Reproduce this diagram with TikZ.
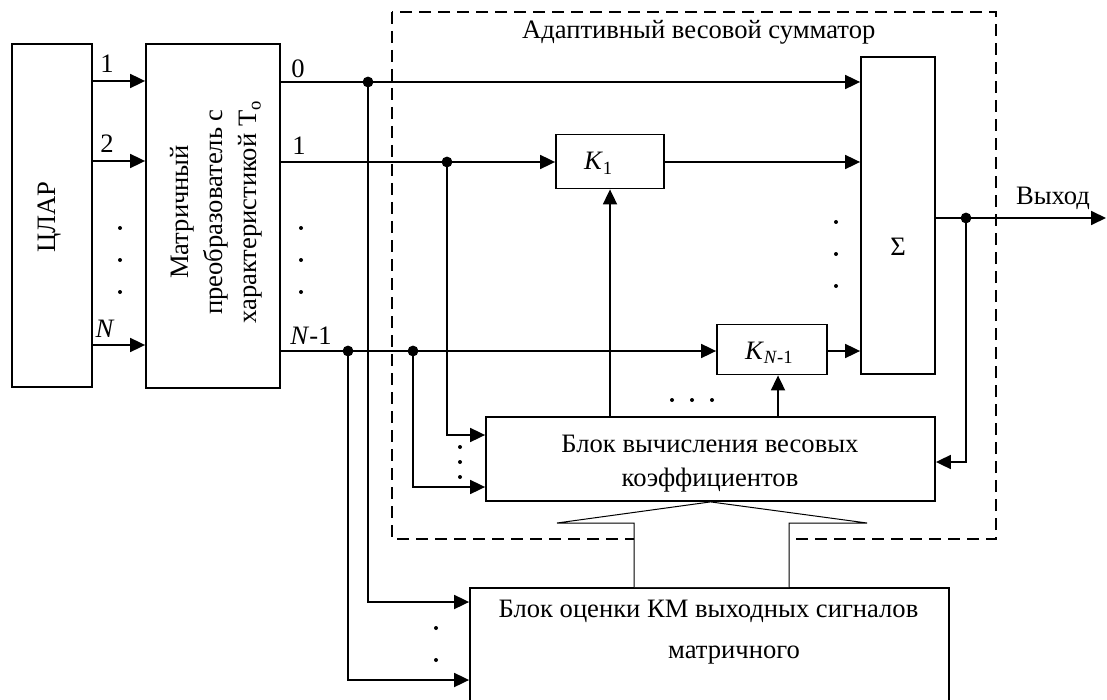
\documentclass[tikz,border=0pt]{standalone}
\usepackage{fontspec}
\setmainfont{Liberation Serif}
\usetikzlibrary{arrows.meta}

\begin{document}
\begin{tikzpicture}[x=0.5pt,y=-0.5pt,
        every node/.style={font=\fontsize{13.3}{17}\selectfont},
        blk/.style={draw, line width=0.9pt, inner sep=0pt},
        wire/.style={line width=0.9pt},
        sig/.style={wire, -{Triangle[length=7.5pt,width=7pt]}},
        frame/.style={line width=0.9pt, dash pattern=on 6pt off 3.5pt}]
        \clip (0,0) rectangle (1107,700);

        % Adaptive summator frame
        \draw[frame] (392,12) rectangle (996,539);
        \node[anchor=base west] (title) at (515,39) {Адаптивный весовой сумматор};

        % Blocks
        \node[blk, minimum width=40pt, minimum height=171.5pt] (clar) at (52,215.5) {};
        \node[rotate=90] (clartxt) at (50,217) {ЦЛАР};
        \node[blk, minimum width=67pt, minimum height=172pt] (mat) at (213,216) {};
        \node[rotate=90, align=center] (mattxt) at (216,212)
            {Матричный\\преобразователь с\\характеристикой T\textsubscript{o}};
        \node[blk, minimum width=54pt, minimum height=27pt] (k1) at (610,161.5) {};
        \node[anchor=base west] (k1txt) at (577,170) {\textit{K}\textsubscript{1}};
        \node[blk, minimum width=55pt, minimum height=25pt] (kn) at (772,349.5) {};
        \node[anchor=base west] (kntxt) at (738,359) {\textit{K}\textsubscript{\textit{N}-1}};
        \node[blk, minimum width=37pt, minimum height=158.5pt] (sum) at (898,215.5) {};
        \node (sumtxt) at (898,247) {Σ};
        \node[blk, minimum width=224.5pt, minimum height=42pt] (calc) at (710.5,459) {};
        \node[anchor=base] (calc1) at (710,452) {Блок вычисления весовых};
        \node[anchor=base] (calc2) at (710,486) {коэффициентов};
        \node[blk, minimum width=239.5pt, minimum height=86pt] (est) at (709.5,674) {};
        \node[anchor=base] (est1) at (708.5,617) {Блок оценки КМ выходных сигналов};
        \node[anchor=base] (est2) at (734,658) {матричного};

        % Junctions
        \coordinate (d0) at (368,82);
        \coordinate (d1) at (447,162);
        \coordinate (da) at (348,351);
        \coordinate (db) at (413,351);
        \coordinate (dout) at (966,218);
        \coordinate (out) at (1106,218);

        % CLAR -> matrix
        \draw[sig] (clar.east |- 0,81) -- (mat.west |- 0,81);
        \draw[sig] (clar.east |- 0,161) -- (mat.west |- 0,161);
        \draw[sig] (clar.east |- 0,345) -- (mat.west |- 0,345);
        \node[anchor=base] (in1) at (107,73) {1};
        \node[anchor=base] (in2) at (107,153) {2};
        \node[anchor=base] (inN) at (105,337) {\textit{N}};

        % Matrix outputs
        \draw[sig] (mat.east |- d0) -- (sum.west |- d0);
        \draw[wire] (mat.east |- d1) -- (d1);
        \draw[sig] (d1) -- (k1.west |- d1);
        \draw[sig] (k1.east |- d1) -- (sum.west |- d1);
        \draw[sig] (mat.east |- da) -- (kn.west |- da);
        \draw[sig] (kn.east |- da) -- (sum.west |- da);
        \node[anchor=base] (out0) at (298,78) {0};
        \node[anchor=base] (out1) at (299,155) {1};
        \node[anchor=base] (outN) at (311,344) {\textit{N}-1};

        % Branches to the blocks below
        \draw[sig] (d0) |- (est.west |- 0,602);
        \draw[sig] (da) |- (est.west |- 0,680);
        \draw[sig] (d1) |- (calc.west |- 0,435);
        \draw[sig] (db) |- (calc.west |- 0,487);

        % Weights
        \draw[sig] (calc.north -| k1) -- (k1.south);
        \draw[sig] (calc.north -| 778,0) -- (kn.south -| 778,0);

        % Output and feedback
        \draw[wire] (sum.east |- dout) -- (dout);
        \draw[sig] (dout) -- (out);
        \draw[sig] (dout) |- (calc.east |- 0,462);
        \node[anchor=base] (outtxt) at (1053,205) {Выход};

        % Wide arrow
        \draw[line width=0.5pt, fill=white] (634,587) -- (634,523) -- (557,523)
            -- (calc.south) -- (867,523) -- (789,523) -- (789,587);

        % Dots
        \foreach \c in {d0,d1,da,db,dout}
            \fill (\c) circle (2.7pt);
        \foreach \y in {228,260,292} {
            \fill (120,\y) circle (1pt);
            \fill (301,\y) circle (1pt);
        }
        \foreach \y in {222,254,286}
            \fill (836,\y) circle (1pt);
        \foreach \x in {672,692,712}
            \fill (\x,400) circle (1pt);
        \foreach \y in {447,462,477}
            \fill (460,\y) circle (1pt);
        \foreach \y in {628,660}
            \fill (436,\y) circle (1pt);
    \end{tikzpicture}
\end{document}
